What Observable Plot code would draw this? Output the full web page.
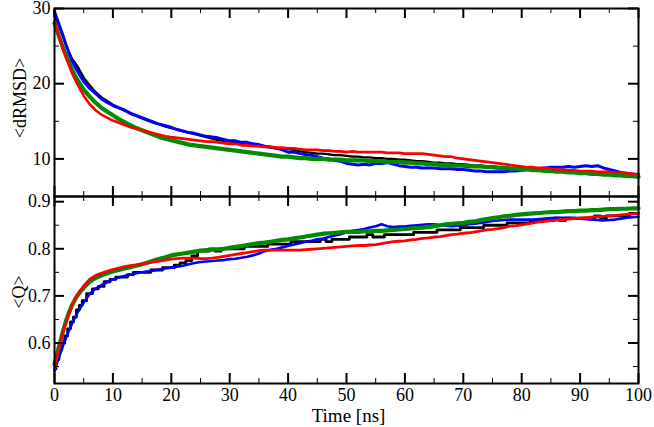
<!DOCTYPE html>
<html><head><meta charset="utf-8">
<script src="https://cdn.jsdelivr.net/npm/d3@7"></script>
<script src="https://cdn.jsdelivr.net/npm/@observablehq/plot@0.6"></script>
<style>
body{margin:0;background:#fff;}
#chart{position:relative;width:654px;height:427px;font-family:"Liberation Serif","Times New Roman",serif;}
#chart svg{position:absolute;left:0;overflow:visible;background:none;font-family:"Liberation Serif","Times New Roman",serif;}
</style></head><body><div id="chart"></div>
<script>
const T = [0,0.5,1,1.5,2,2.5,3,3.5,4,4.5,5,
6,7,8,9,10,11,12,13,14,15,
16,17,18,19,20,21,22,23,24,25,
26,27,28,29,30,31,32,33,34,35,
36,37,38,39,40,41,42,43,44,45,
46,47,48,49,50,51,52,53,54,55,
56,57,58,59,60,61,62,63,64,65,
66,67,68,69,70,71,72,73,74,75,
76,77,78,79,80,81,82,83,84,85,
86,87,88,89,90,91,92,93,94,95,
96,97,98,99,100];

// <dRMSD>
const dBlack = [29.2,28.2,27.2,26.2,25.1,24.1,23.3,22.8,22.2,21.5,20.8,
19.8,18.9,18.2,17.7,17.2,16.8,16.4,16.0,15.7,15.4,
15.1,14.8,14.6,14.3,14.1,13.9,13.7,13.5,13.3,13.1,
12.9,12.7,12.5,12.4,12.3,12.2,12.0,11.9,11.8,11.7,
11.6,11.5,11.4,11.3,11.3,11.2,11.0,10.9,10.8,10.7,
10.7,10.6,10.5,10.5,10.4,10.3,10.3,10.2,10.2,10.1,
10.1,10.0,10.0,9.9,9.9,9.8,9.7,9.7,9.6,9.5,
9.5,9.4,9.4,9.3,9.3,9.2,9.1,9.1,9.0,9.0,
8.9,8.9,8.8,8.8,8.7,8.7,8.6,8.6,8.5,8.5,
8.4,8.4,8.4,8.3,8.3,8.2,8.2,8.1,8.1,8.0,
8.0,7.9,7.9,7.8,7.8];
const dBlue = [29.6,28.5,27.4,26.3,25.1,24.0,23.0,22.3,21.6,20.9,20.3,
19.4,18.7,18.0,17.5,17.1,16.8,16.5,16.1,15.8,15.5,
15.2,14.9,14.6,14.4,14.2,13.9,13.7,13.5,13.4,13.2,
13.0,12.9,12.8,12.6,12.4,12.4,12.2,12.2,12.0,11.9,
11.7,11.6,11.4,11.2,10.9,10.9,10.7,10.6,10.5,10.3,
10.1,10.0,9.8,9.7,9.4,9.3,9.2,9.3,9.2,9.4,
9.4,9.5,9.3,9.1,9.0,8.9,8.9,8.8,8.8,8.8,
8.7,8.7,8.7,8.6,8.6,8.5,8.4,8.4,8.3,8.3,
8.3,8.3,8.4,8.4,8.5,8.6,8.7,8.7,8.8,8.9,
8.9,8.9,9.0,8.9,9.0,9.1,9.0,9.1,8.8,8.6,
8.4,8.2,8.1,8.0,7.9];
const dRed = [28.3,27.0,25.7,24.5,23.4,22.4,21.4,20.6,19.8,19.1,18.4,
17.3,16.5,15.9,15.5,15.1,14.8,14.5,14.2,14.0,13.8,
13.6,13.4,13.2,13.0,12.9,12.8,12.7,12.6,12.5,12.4,
12.3,12.3,12.2,12.1,12.0,12.0,11.8,11.8,11.7,11.7,
11.6,11.6,11.5,11.5,11.4,11.4,11.3,11.2,11.2,11.2,
11.1,11.1,11.0,11.0,10.9,11.0,10.9,10.9,10.9,10.9,
10.9,10.8,10.8,10.8,10.7,10.7,10.7,10.7,10.6,10.5,
10.4,10.3,10.3,10.1,10.0,9.9,9.8,9.7,9.6,9.5,
9.4,9.3,9.2,9.1,9.0,8.9,8.9,8.8,8.8,8.7,
8.6,8.6,8.5,8.5,8.4,8.4,8.4,8.3,8.3,8.3,
8.2,8.2,8.1,8.0,8.0];
const dGreen = [28.0,26.9,25.8,24.7,23.7,22.8,21.9,21.1,20.4,19.8,19.2,
18.3,17.5,16.8,16.3,15.8,15.3,14.9,14.5,14.1,13.8,
13.5,13.2,12.9,12.7,12.5,12.3,12.1,11.9,11.8,11.7,
11.6,11.5,11.4,11.3,11.2,11.1,11.0,10.9,10.8,10.7,
10.6,10.5,10.4,10.3,10.3,10.2,10.1,10.1,10.0,10.0,
10.0,9.9,9.9,9.9,9.8,9.8,9.8,9.8,9.7,9.7,
9.7,9.6,9.6,9.6,9.5,9.5,9.4,9.4,9.3,9.3,
9.2,9.2,9.1,9.1,9.1,9.0,9.0,9.0,8.9,8.9,
8.8,8.8,8.7,8.7,8.6,8.6,8.5,8.5,8.4,8.4,
8.3,8.3,8.2,8.2,8.1,8.1,8.0,8.0,7.9,7.9,
7.8,7.8,7.7,7.7,7.6];

// <Q>
const qBlack = [0.545,0.565,0.585,0.600,0.615,0.630,0.645,0.655,0.670,0.680,0.690,
0.705,0.715,0.720,0.730,0.735,0.740,0.740,0.745,0.750,0.750,
0.750,0.755,0.755,0.760,0.760,0.765,0.770,0.775,0.785,0.795,
0.795,0.800,0.795,0.800,0.800,0.800,0.800,0.805,0.805,0.805,
0.805,0.810,0.810,0.810,0.810,0.815,0.815,0.815,0.815,0.815,
0.820,0.815,0.820,0.820,0.820,0.825,0.825,0.825,0.830,0.825,
0.825,0.830,0.830,0.830,0.830,0.830,0.835,0.835,0.835,0.835,
0.840,0.840,0.840,0.840,0.845,0.845,0.845,0.845,0.850,0.850,
0.850,0.850,0.855,0.855,0.855,0.855,0.860,0.860,0.860,0.860,
0.865,0.860,0.865,0.865,0.865,0.865,0.865,0.870,0.865,0.870,
0.870,0.870,0.870,0.875,0.875];
const qBlue = [0.540,0.560,0.578,0.596,0.612,0.627,0.641,0.654,0.666,0.676,0.686,
0.704,0.715,0.723,0.729,0.735,0.739,0.742,0.745,0.748,0.750,
0.752,0.754,0.756,0.758,0.760,0.762,0.764,0.767,0.770,0.772,
0.773,0.774,0.775,0.776,0.778,0.779,0.781,0.783,0.786,0.790,
0.795,0.798,0.800,0.803,0.806,0.809,0.812,0.815,0.817,0.820,
0.822,0.825,0.828,0.831,0.835,0.838,0.840,0.842,0.845,0.848,
0.852,0.848,0.846,0.847,0.847,0.849,0.850,0.851,0.852,0.852,
0.850,0.849,0.848,0.849,0.850,0.852,0.853,0.855,0.857,0.859,
0.860,0.861,0.862,0.862,0.862,0.862,0.862,0.863,0.864,0.865,
0.866,0.866,0.866,0.865,0.864,0.863,0.862,0.861,0.860,0.861,
0.862,0.864,0.866,0.867,0.868];
const qRed = [0.545,0.575,0.600,0.625,0.645,0.663,0.680,0.693,0.704,0.713,0.721,
0.735,0.743,0.748,0.752,0.756,0.759,0.762,0.764,0.766,0.768,
0.770,0.772,0.774,0.776,0.778,0.779,0.780,0.780,0.780,0.779,
0.779,0.780,0.782,0.784,0.786,0.788,0.790,0.792,0.794,0.796,
0.797,0.797,0.797,0.797,0.797,0.797,0.797,0.798,0.799,0.800,
0.801,0.802,0.803,0.804,0.805,0.806,0.807,0.807,0.808,0.809,
0.811,0.813,0.815,0.816,0.817,0.819,0.820,0.822,0.823,0.825,
0.826,0.828,0.830,0.831,0.833,0.834,0.836,0.838,0.840,0.841,
0.843,0.845,0.848,0.849,0.851,0.853,0.855,0.857,0.858,0.860,
0.861,0.862,0.863,0.864,0.865,0.866,0.867,0.868,0.869,0.870,
0.871,0.872,0.873,0.874,0.875];
const qGreen = [0.555,0.580,0.603,0.627,0.648,0.665,0.680,0.692,0.702,0.710,0.717,
0.730,0.738,0.743,0.748,0.752,0.755,0.758,0.761,0.764,0.767,
0.771,0.775,0.779,0.782,0.786,0.788,0.790,0.792,0.794,0.796,
0.797,0.798,0.799,0.800,0.802,0.804,0.806,0.808,0.810,0.812,
0.813,0.815,0.817,0.819,0.820,0.822,0.824,0.826,0.828,0.830,
0.832,0.833,0.834,0.835,0.836,0.836,0.836,0.837,0.837,0.838,
0.838,0.839,0.840,0.841,0.842,0.843,0.844,0.845,0.846,0.848,
0.850,0.852,0.853,0.854,0.855,0.857,0.858,0.861,0.863,0.865,
0.867,0.869,0.870,0.872,0.873,0.874,0.875,0.876,0.877,0.878,
0.878,0.879,0.880,0.880,0.881,0.881,0.882,0.882,0.883,0.884,
0.884,0.885,0.885,0.886,0.886];

const xMajor = [0,10,20,30,40,50,60,70,80,90,100];
const xMinor = [5,15,25,35,45,55,65,75,85,95];
const dMajor = [10,20,30];
const dMinor = [5,15,25];
const qMajor = [0.6,0.7,0.8,0.9];
const qMinor = [0.55,0.65,0.75,0.85];

const FONT = '"Liberation Serif","Times New Roman",serif';
const W = 654, ML = 54, MR = 16;

function series(vals){ return T.map((t,i)=>({t, v: vals[i]})); }

function tickMarks(yDom, plotH, yMaj, yMin){
  const kx = 100 / (W - ML - MR);
  const ky = (yDom[1]-yDom[0]) / plotH;
  const [y0,y1] = yDom;
  const m = [];
  for (const [xs,len,sw] of [[xMajor,10,2],[xMinor,5,1]]) {
    m.push(Plot.ruleX(xs,{x:d=>d,y1:y0,y2:y0+len*ky,stroke:"black",strokeWidth:sw}));
    m.push(Plot.ruleX(xs,{x:d=>d,y1:y1,y2:y1-len*ky,stroke:"black",strokeWidth:sw}));
  }
  for (const [ys,len,sw] of [[yMaj,10,2],[yMin,5,1]]) {
    m.push(Plot.ruleY(ys,{y:d=>d,x1:0,x2:len*kx,stroke:"black",strokeWidth:sw}));
    m.push(Plot.ruleY(ys,{y:d=>d,x1:100,x2:100-len*kx,stroke:"black",strokeWidth:sw}));
  }
  return m;
}
const txt = {fill:"black", fontFamily: FONT, fontSize: 18};

// top panel
const dDom = [5,30];
const topH = 196, topMT = 8;
const topPlot = Plot.plot({
  width: W, height: topH, marginLeft: ML, marginRight: MR, marginTop: topMT, marginBottom: 0,
  x: {domain:[0,100], axis:null},
  y: {domain:dDom, axis:null},
  style: {background:"transparent", overflow:"visible"},
  marks: [
    Plot.line(series(dBlack),{x:"t",y:"v",stroke:"#000000",strokeWidth:2.4}),
    Plot.line(series(dBlue),{x:"t",y:"v",stroke:"#0000ff",strokeWidth:3}),
    Plot.line(series(dGreen),{x:"t",y:"v",stroke:"#008b00",strokeWidth:4.2}),
    Plot.line(series(dRed),{x:"t",y:"v",stroke:"#ff0000",strokeWidth:2.6}),
    ...tickMarks(dDom, topH-topMT, dMajor, dMinor),
    Plot.frame({stroke:"black",strokeWidth:2}),
    Plot.text(dMajor,{...txt,y:d=>d,text:d=>String(d),frameAnchor:"left",dx:-4,textAnchor:"end",lineAnchor:"middle"}),
    Plot.text(["<dRMSD>"],{...txt,text:d=>d,frameAnchor:"left",dx:-29,dy:-4.5,rotate:-90,textAnchor:"middle",lineAnchor:"bottom"})
  ]
});

// bottom panel
const qDom = [0.514,0.911];
const botH = 231, botMB = 44;
const botPlot = Plot.plot({
  width: W, height: botH, marginLeft: ML, marginRight: MR, marginTop: 0, marginBottom: botMB,
  x: {domain:[0,100], axis:null},
  y: {domain:qDom, axis:null},
  style: {background:"transparent", overflow:"visible"},
  marks: [
    Plot.line(series(qBlack),{x:"t",y:"v",stroke:"#000000",strokeWidth:2.8,curve:"step"}),
    Plot.line(series(qBlue),{x:"t",y:"v",stroke:"#0000ff",strokeWidth:2.6}),
    Plot.line(series(qGreen),{x:"t",y:"v",stroke:"#008b00",strokeWidth:4.2}),
    Plot.line(series(qRed),{x:"t",y:"v",stroke:"#ff0000",strokeWidth:2.8}),
    ...tickMarks(qDom, botH-botMB, qMajor, qMinor),
    Plot.frame({stroke:"black",strokeWidth:2}),
    Plot.text(qMajor,{...txt,y:d=>d,text:d=>d.toFixed(1),frameAnchor:"left",dx:-4,textAnchor:"end",lineAnchor:"middle"}),
    Plot.text(xMajor,{...txt,x:d=>d,text:d=>String(d),frameAnchor:"bottom",dy:17.3,textAnchor:"middle",lineAnchor:"bottom"}),
    Plot.text(["<Q>"],{...txt,text:d=>d,frameAnchor:"left",dx:-30,dy:2,rotate:-90,textAnchor:"middle",lineAnchor:"bottom"}),
    Plot.text(["Time [ns]"],{...txt,fontSize:19,text:d=>d,frameAnchor:"bottom",dx:2,dy:38.8,textAnchor:"middle",lineAnchor:"bottom"})
  ]
});

const chart = document.getElementById("chart");
topPlot.style.top = "0px";
botPlot.style.top = topH + "px";
chart.appendChild(topPlot);
chart.appendChild(botPlot);
</script></body></html>
